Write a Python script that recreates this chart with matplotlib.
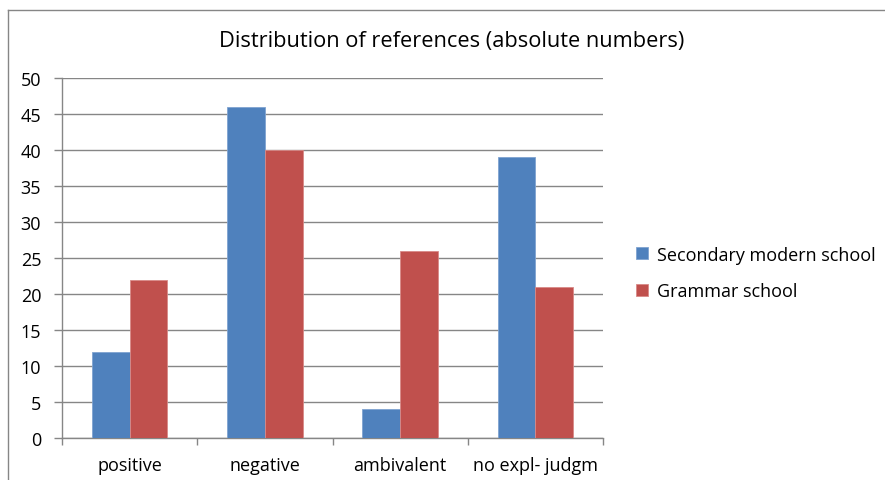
#!/usr/bin/env python3

import matplotlib.pyplot as plt
import numpy as np
from matplotlib.lines import Line2D

categories = ['positive', 'negative', 'ambivalent', 'no expl- judgm']
secondary_modern = [12, 46, 4, 39]
grammar = [22, 40, 26, 21]
series_names = ['Secondary modern school', 'Grammar school']

plt.rcParams['font.family'] = ['Open Sans', 'DejaVu Sans']

fig = plt.figure(figsize=(8.85, 4.81), dpi=100)
ax = fig.add_axes([62 / 885, 42 / 481, 541 / 885, 360 / 481])

x = np.arange(len(categories))
w = 0.28
ax.bar(x - w / 2, secondary_modern, w, color='#4F81BD', edgecolor='#7fa3d0',
       linewidth=0.6, label=series_names[0], zorder=3)
ax.bar(x + w / 2, grammar, w, color='#C0504D', edgecolor='#d88a88',
       linewidth=0.6, label=series_names[1], zorder=3)

ax.set_xlim(-0.5, len(categories) - 0.5)
ax.set_ylim(0, 50)
ax.set_yticks(np.arange(0, 51, 5))
ax.yaxis.grid(True, color='#868686', linewidth=1, zorder=0)

# category ticks at boundaries, labels centred
ax.set_xticks(np.arange(-0.5, len(categories), 1))
ax.set_xticklabels([])
ax.set_xticks(x, minor=True)
ax.set_xticklabels(categories, minor=True, fontsize=13)
ax.tick_params(axis='x', which='minor', length=0, pad=13)
ax.tick_params(axis='x', which='major', length=5, color='#868686', width=1)
ax.tick_params(axis='y', length=6, color='#868686', width=1, labelsize=13, pad=9)

for side in ['top', 'right']:
    ax.spines[side].set_visible(False)
for side in ['left', 'bottom']:
    ax.spines[side].set_color('#868686')
    ax.spines[side].set_linewidth(1)

fig.text(452 / 885, 1 - 42 / 481, 'Distribution of references (absolute numbers)',
         ha='center', va='center', fontsize=15.7)

ax.legend(loc='center left', bbox_to_anchor=(620 / 885, 1 - 274 / 481),
          bbox_transform=fig.transFigure, frameon=False, fontsize=13,
          handlelength=0.65, handleheight=0.65, handletextpad=0.5,
          labelspacing=1.05)

# chart frame (cropped: only top and left edges visible)
fig.add_artist(Line2D([7.5 / 885, 7.5 / 885], [0, 1 - 11 / 481],
                      color='#868686', linewidth=1))
fig.add_artist(Line2D([7.5 / 885, 1], [1 - 11 / 481, 1 - 11 / 481],
                      color='#868686', linewidth=1))

fig.savefig('out.png', dpi=100)
